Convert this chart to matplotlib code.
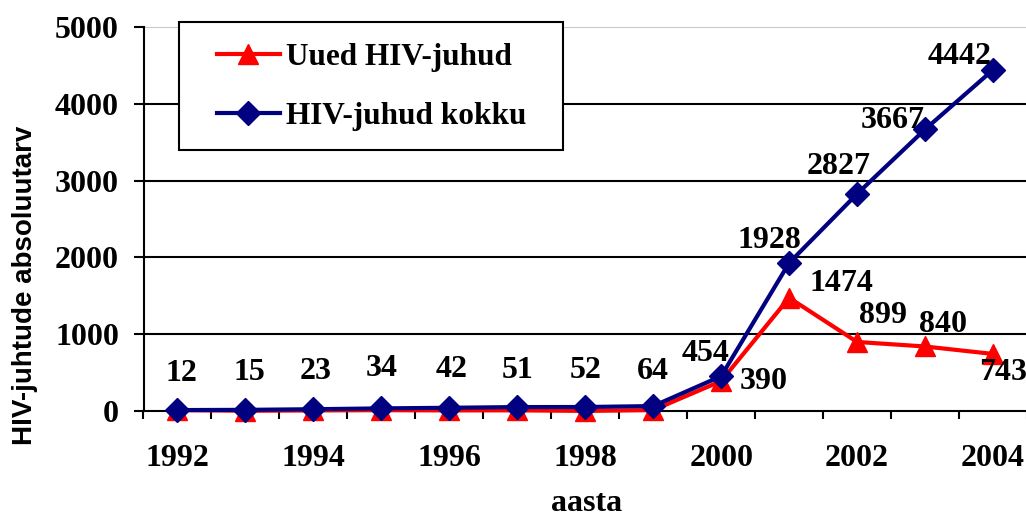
import matplotlib
matplotlib.use("Agg")
import matplotlib.pyplot as plt
from matplotlib.patches import Rectangle
from matplotlib.ticker import FixedLocator

years = [1992, 1993, 1994, 1995, 1996, 1997, 1998, 1999, 2000, 2001, 2002, 2003, 2004]
new_cases = [12, 3, 8, 11, 8, 9, 1, 12, 390, 1474, 899, 840, 743]
total_cases = [12, 15, 23, 34, 42, 51, 52, 64, 454, 1928, 2827, 3667, 4442]
new_label = "Uued HIV-juhud"
total_label = "HIV-juhud kokku"
ylabel = "HIV-juhtude absoluutarv"
xlabel = "aasta"
yticks = [0, 1000, 2000, 3000, 4000, 5000]
xtick_years = [1992, 1994, 1996, 1998, 2000, 2002, 2004]

# which labels are shown (index) and their pixel offsets
total_label_idx = list(range(13))
total_offsets = [(4, 37), (4, 37), (2, 38), (0, 40), (2, 38), (0, 37), (0, 37), (0, 35),
                 (-16, 23), (-20, 22), (-18, 27), (-32, 9), (-33, 13)]
new_label_idx = [8, 9, 10, 11, 12]
new_offsets = [(43, 0), (52, 14), (26, 26), (18, 22), (10, -19)]

W, H = 1026, 517
fig = plt.figure(figsize=(W / 100, H / 100), dpi=100)
serif = "Liberation Serif"
FS = 23

L, R, T, B = 143.5, 1027, 27, 411
ax = fig.add_axes([L / W, (H - B) / H, (R - L) / W, (B - T) / H])

red, = ax.plot(years, new_cases, color="#FF0000", lw=3, marker="^", ms=15,
               clip_on=False, zorder=3, label=new_label)
navy, = ax.plot(years, total_cases, color="#000080", lw=3, marker="D", ms=12.5,
                clip_on=False, zorder=4, label=total_label)

ax.set_xlim(years[0] - 0.5, years[-1] + 0.5)
ax.set_ylim(0, 5000)

for sp in ["top", "right"]:
    ax.spines[sp].set_visible(False)
for sp in ["left", "bottom"]:
    ax.spines[sp].set_linewidth(1.5)
    ax.spines[sp].set_zorder(2)

ax.set_yticks(yticks)
ax.set_yticklabels([str(v) for v in yticks], fontfamily=serif, fontweight="bold", fontsize=FS)
ax.tick_params(axis="y", length=7.2, width=1.5, pad=10.5)
for v in yticks[1:-1]:
    ax.axhline(v, color="black", lw=1.5, zorder=1)
ax.axhline(yticks[-1], color="#c8c8c8", lw=1.5, zorder=1)

ax.xaxis.set_major_locator(FixedLocator(xtick_years))
ax.set_xticklabels([str(v) for v in xtick_years], fontfamily=serif, fontweight="bold", fontsize=FS)
ax.xaxis.set_minor_locator(FixedLocator([y - 0.5 for y in years] + [years[-1] + 0.5]))
ax.tick_params(axis="x", which="major", length=0, pad=24)
ax.tick_params(axis="x", which="minor", length=5.8, width=1.5)

for i, (dx, dy) in zip(total_label_idx, total_offsets):
    ax.annotate(str(total_cases[i]), (years[i], total_cases[i]), xytext=(dx, dy),
                textcoords="offset pixels", ha="center", va="center",
                fontfamily=serif, fontweight="bold", fontsize=FS, zorder=5,
                annotation_clip=False)
for i, (dx, dy) in zip(new_label_idx, new_offsets):
    ax.annotate(str(new_cases[i]), (years[i], new_cases[i]), xytext=(dx, dy),
                textcoords="offset pixels", ha="center", va="center",
                fontfamily=serif, fontweight="bold", fontsize=FS, zorder=5,
                annotation_clip=False)

fig.text(25 / W, 1 - 285 / H, ylabel, rotation=90, ha="center", va="center",
         fontfamily="Liberation Sans", fontweight="bold", fontsize=20)
fig.text(587 / W, 1 - 511 / H, xlabel, ha="center", va="baseline",
         fontfamily=serif, fontweight="bold", fontsize=FS)

# legend frame
fig.patches.append(Rectangle((179 / W, 1 - 150 / H), (563 - 179) / W, (150 - 22) / H,
                             transform=fig.transFigure, facecolor="white",
                             edgecolor="black", lw=1.5, zorder=6))
leg = fig.legend(handles=[red, navy], loc="upper left",
                 bbox_to_anchor=(217 / W, 1 - 43 / H), borderaxespad=0, borderpad=0,
                 frameon=False, handlelength=2.0, handletextpad=0.2, labelspacing=0.95,
                 prop={"family": serif, "weight": "bold", "size": 22.5})
leg.set_zorder(7)

fig.savefig("out.png", dpi=100)
